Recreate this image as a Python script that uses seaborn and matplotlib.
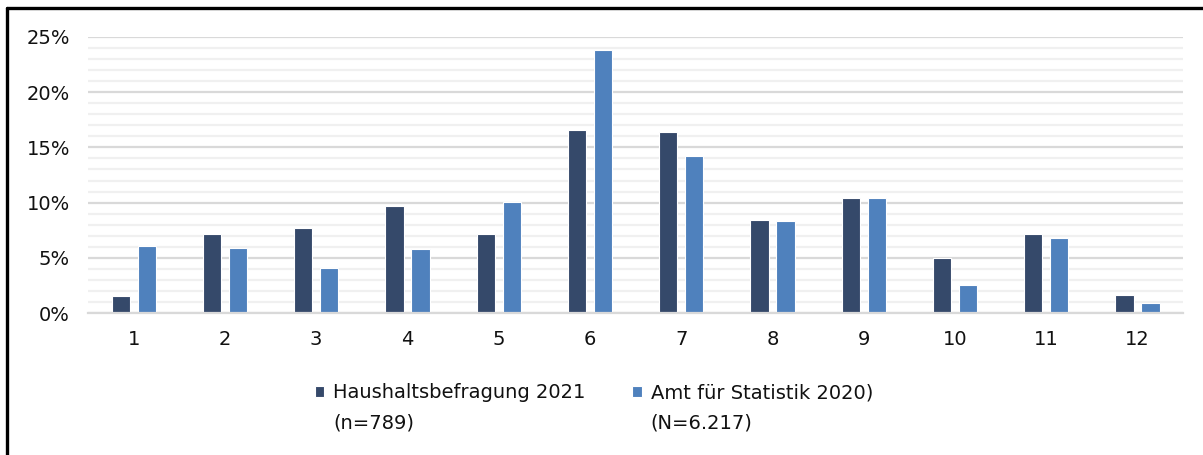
import pandas as pd
import matplotlib.pyplot as plt
import seaborn as sns
from matplotlib.lines import Line2D
from matplotlib.ticker import MultipleLocator, FuncFormatter

# Anteile in Prozent je Kategorie
kategorien = ['1', '2', '3', '4', '5', '6', '7', '8', '9', '10', '11', '12']
haushalt_2021 = [1.5, 7.2, 7.7, 9.7, 7.2, 16.6, 16.4, 8.4, 10.4, 5.0, 7.2, 1.6]
statistik_2020 = [6.1, 5.9, 4.1, 5.8, 10.1, 23.8, 14.2, 8.3, 10.4, 2.5, 6.8, 0.9]
serien = ['Haushaltsbefragung 2021', 'Amt für Statistik 2020)']
serien_n = ['(n=789)', '(N=6.217)']
farben = ['#35496A', '#4F81BD']

df = pd.DataFrame({
    'Kategorie': kategorien * 2,
    'Anteil': haushalt_2021 + statistik_2020,
    'Quelle': [serien[0]] * len(kategorien) + [serien[1]] * len(kategorien),
})

sns.set_style('white')
plt.rcParams['font.family'] = ['DejaVu Sans']

fig = plt.figure(figsize=(12.03, 4.55), dpi=100)
ax = fig.add_axes([0.0732, 0.312, 0.9102, 0.6067])

sns.barplot(data=df, x='Kategorie', y='Anteil', hue='Quelle', palette=farben,
            saturation=1, width=0.57, gap=0.3, edgecolor='white', linewidth=0.8, ax=ax)

ax.set_ylim(0, 25)
ax.set_xlim(-0.5, 11.5)
ax.yaxis.set_major_locator(MultipleLocator(5))
ax.yaxis.set_minor_locator(MultipleLocator(1))
ax.yaxis.set_major_formatter(FuncFormatter(lambda v, p: f'{v:.0f}%'))
ax.grid(axis='y', which='major', color='#d9d9d9', linewidth=1.6)
ax.grid(axis='y', which='minor', color='#f0f0f0', linewidth=1.6)
ax.set_axisbelow(True)
for s in ['top', 'right', 'left']:
    ax.spines[s].set_visible(False)
ax.spines['bottom'].set_color('#d9d9d9')
ax.spines['bottom'].set_linewidth(1.6)
ax.tick_params(axis='both', which='both', length=0, labelsize=14, colors='#111111')
ax.tick_params(axis='y', pad=13)
ax.tick_params(axis='x', pad=12)
ax.set_xlabel('')
ax.set_ylabel('')

handles, labels = ax.get_legend_handles_labels()
ax.get_legend().remove()
leg = fig.legend(handles, labels, loc='upper left', bbox_to_anchor=(0.2615, 0.158),
                 ncol=2, frameon=False, fontsize=14, handlelength=0.5, handleheight=0.5,
                 handletextpad=0.45, columnspacing=2.4, borderaxespad=0, borderpad=0)
for t in leg.get_texts():
    t.set_color('#111111')

# zweite Zeile der Legende unter den Namen
fig.canvas.draw()
inv = fig.transFigure.inverted()
for t, zusatz in zip(leg.get_texts(), serien_n):
    bb = t.get_window_extent()
    x0, y0 = inv.transform((bb.x0, bb.y0))
    fig.text(x0, y0 - 11 / 455, zusatz, fontsize=14, color='#111111', va='top', ha='left')

# Rahmen (oben und links, Rest abgeschnitten)
fig.add_artist(Line2D([7 / 1203, 1.0], [1 - 7.5 / 455, 1 - 7.5 / 455], color='black', lw=2.4))
fig.add_artist(Line2D([7 / 1203, 7 / 1203], [0.0, 1 - 7.5 / 455], color='black', lw=2.4))

fig.savefig('out.png', dpi=100)
